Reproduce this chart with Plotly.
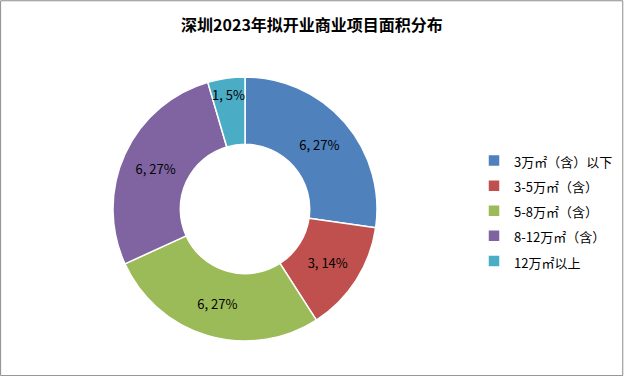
import plotly.graph_objects as go

labels = ["3万㎡（含）以下", "3-5万㎡（含）", "5-8万㎡（含）", "8-12万㎡（含）", "12万㎡以上"]
values = [6, 3, 6, 6, 1]
colors = ["#4F81BD", "#C0504D", "#9BBB59", "#8064A2", "#4BACC6"]

total = sum(values)
texts = [f"{v}, {round(v * 100 / total)}%" for v in values]
legend_labels = [f'<span style="font-size:13px">{s}</span>' for s in labels]

W, H = 624, 376
cx, cy, r = 245, 209, 132

fig = go.Figure(go.Pie(
    labels=legend_labels, values=values, text=texts, textinfo="text",
    textposition="inside", insidetextorientation="horizontal",
    hole=0.49, sort=False, direction="clockwise", rotation=0,
    marker=dict(colors=colors, line=dict(color="white", width=1.5)),
    textfont=dict(color="black", size=13, family="Noto Sans CJK SC"),
    domain=dict(x=[(cx - r) / W, (cx + r) / W], y=[1 - (cy + r) / H, 1 - (cy - r) / H]),
    hoverinfo="label+value+percent",
))

fig.update_layout(
    width=W, height=H, margin=dict(l=0, r=0, t=0, b=0),
    paper_bgcolor="white", plot_bgcolor="white",
    font=dict(family="Noto Sans CJK SC", size=12, color="black"),
    uniformtext=dict(minsize=13, mode="show"),
    title=dict(text="<b>深圳2023年拟开业商业项目面积分布</b>", x=0.5, xanchor="center",
               y=1 - 25 / H, yanchor="middle", font=dict(size=16)),
    legend=dict(x=474 / W, y=1 - 143 / H, xanchor="left", yanchor="top",
                font=dict(size=17), tracegroupgap=0, itemwidth=30),
    shapes=[dict(type="rect", xref="paper", yref="paper", x0=0.001, y0=0.001, x1=0.998, y1=0.998,
                 line=dict(color="#8c8c8c", width=1))],
)

fig.write_html("out.html")
